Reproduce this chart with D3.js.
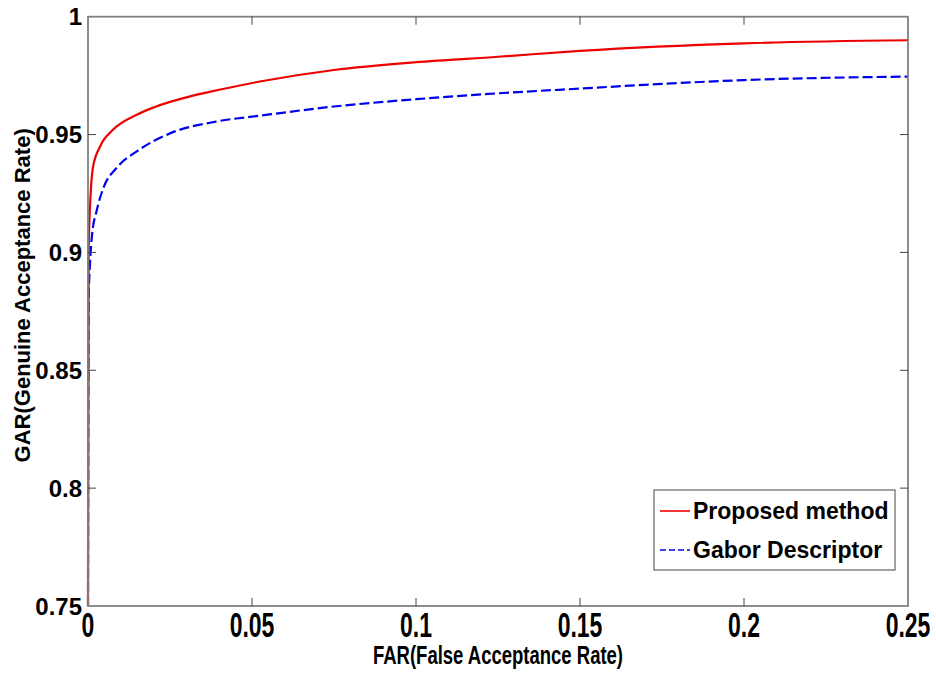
<!DOCTYPE html>
<html>
<head>
<meta charset="utf-8">
<script src="https://cdn.jsdelivr.net/npm/d3@7"></script>
<style>
  body { margin: 0; background: #fff; }
  svg { display: block; font-family: "Liberation Sans", Arial, sans-serif; }
</style>
</head>
<body>
<div id="chart"></div>
<script>
// ROC-style curves
const proposedFar = [0, 0.0002, 0.0004, 0.0007, 0.0015, 0.0037, 0.0076, 0.015, 0.02, 0.032, 0.04, 0.0524, 0.075, 0.1, 0.125, 0.15, 0.2, 0.25];
const proposedGar = [0.75, 0.9, 0.912, 0.922, 0.936, 0.945, 0.952, 0.9585, 0.9615, 0.9665, 0.969, 0.9725, 0.9774, 0.9807, 0.983, 0.9855, 0.9887, 0.990];
const gaborFar = [0, 0.0002, 0.0006, 0.0012, 0.0027, 0.0046, 0.0088, 0.015, 0.025, 0.039, 0.0524, 0.075, 0.1, 0.125, 0.15, 0.175, 0.2, 0.25];
const gaborGar = [0.75, 0.88, 0.895, 0.907, 0.918, 0.927, 0.936, 0.943, 0.9505, 0.9555, 0.958, 0.9619, 0.965, 0.9675, 0.9695, 0.9715, 0.9731, 0.9746];
const xTicks = [0, 0.05, 0.1, 0.15, 0.2, 0.25];
const yTicks = [0.75, 0.8, 0.85, 0.9, 0.95, 1];
const seriesNames = ["Proposed method", "Gabor Descriptor"];

const width = 936, height = 675;
const margin = { left: 88, right: 28, top: 16.7, bottom: 69 };

const svg = d3.select("#chart").append("svg")
  .attr("width", width)
  .attr("height", height);

const x = d3.scaleLinear().domain([0, 0.25]).range([margin.left, width - margin.right]);
const y = d3.scaleLinear().domain([0.75, 1]).range([height - margin.bottom, margin.top]);

const fmt = d => d === 0 || d === 1 ? String(d) : String(+d.toFixed(2));

// curves
const line = d3.line().x(d => x(d[0])).y(d => y(d[1])).curve(d3.curveMonotoneX);

svg.append("path")
  .datum(gaborFar.map((f, i) => [f, gaborGar[i]]))
  .attr("d", line)
  .attr("fill", "none")
  .attr("stroke", "#0000ee")
  .attr("stroke-width", 2.2)
  .attr("stroke-dasharray", "10,4");

svg.append("path")
  .datum(proposedFar.map((f, i) => [f, proposedGar[i]]))
  .attr("d", line)
  .attr("fill", "none")
  .attr("stroke", "#ee0000")
  .attr("stroke-width", 2.2);

// box
svg.append("rect")
  .attr("x", x(0)).attr("y", y(1))
  .attr("width", x(0.25) - x(0)).attr("height", y(0.75) - y(1))
  .attr("fill", "none").attr("stroke", "#808080").attr("stroke-width", 1.8);

// inward ticks, all four sides
const tl = 8;
const tickG = svg.append("g").attr("stroke", "#444").attr("stroke-width", 1);
xTicks.slice(1, -1).forEach(t => {
  tickG.append("line").attr("x1", x(t)).attr("x2", x(t)).attr("y1", y(0.75)).attr("y2", y(0.75) - tl);
  tickG.append("line").attr("x1", x(t)).attr("x2", x(t)).attr("y1", y(1)).attr("y2", y(1) + tl);
});
yTicks.slice(1, -1).forEach(t => {
  tickG.append("line").attr("x1", x(0)).attr("x2", x(0) + tl).attr("y1", y(t)).attr("y2", y(t));
  tickG.append("line").attr("x1", x(0.25)).attr("x2", x(0.25) - tl).attr("y1", y(t)).attr("y2", y(t));
});

// y tick labels
svg.append("g").selectAll("text").data(yTicks).join("text")
  .attr("x", x(0) - 6)
  .attr("y", d => y(d))
  .attr("dy", "0.36em")
  .attr("text-anchor", "end")
  .attr("font-size", 24)
  .attr("font-weight", "bold")
  .text(fmt);

// x tick labels (stretched tall like the source)
const sy = 1.38;
svg.append("g").selectAll("text").data(xTicks).join("text")
  .attr("transform", d => `translate(${x(d)},${y(0.75) + 6}) scale(0.92,${sy})`)
  .attr("dy", "0.72em")
  .attr("text-anchor", "middle")
  .attr("font-size", 25)
  .attr("font-weight", "bold")
  .text(fmt);

// axis titles
svg.append("text")
  .attr("transform", `translate(${(x(0) + x(0.25)) / 2},${y(0.75) + 58}) scale(1,${sy})`)
  .attr("text-anchor", "middle")
  .attr("font-size", 18.5)
  .attr("font-weight", "bold")
  .text("FAR(False Acceptance Rate)");

svg.append("text")
  .attr("transform", `translate(30,${(y(0.75) + y(1)) / 2 - 16}) rotate(-90)`)
  .attr("text-anchor", "middle")
  .attr("font-size", 22)
  .attr("font-weight", "bold")
  .text("GAR(Genuine Acceptance Rate)");

// legend
const lg = svg.append("g").attr("transform", "translate(654,490)");
lg.append("rect").attr("width", 241).attr("height", 80)
  .attr("fill", "#fff").attr("stroke", "#444").attr("stroke-width", 1);
const legendStyles = [
  { color: "#ee0000", dash: null },
  { color: "#0000ee", dash: "6,3" }
];
seriesNames.forEach((name, i) => {
  const cy = 21 + i * 39;
  lg.append("line").attr("x1", 6).attr("x2", 36).attr("y1", cy).attr("y2", cy)
    .attr("stroke", legendStyles[i].color).attr("stroke-width", 1.6)
    .attr("stroke-dasharray", legendStyles[i].dash);
  lg.append("text").attr("x", 39).attr("y", cy + 8)
    .attr("font-size", 23)
    .attr("font-weight", "bold")
    .text(name);
});
</script>
</body>
</html>
